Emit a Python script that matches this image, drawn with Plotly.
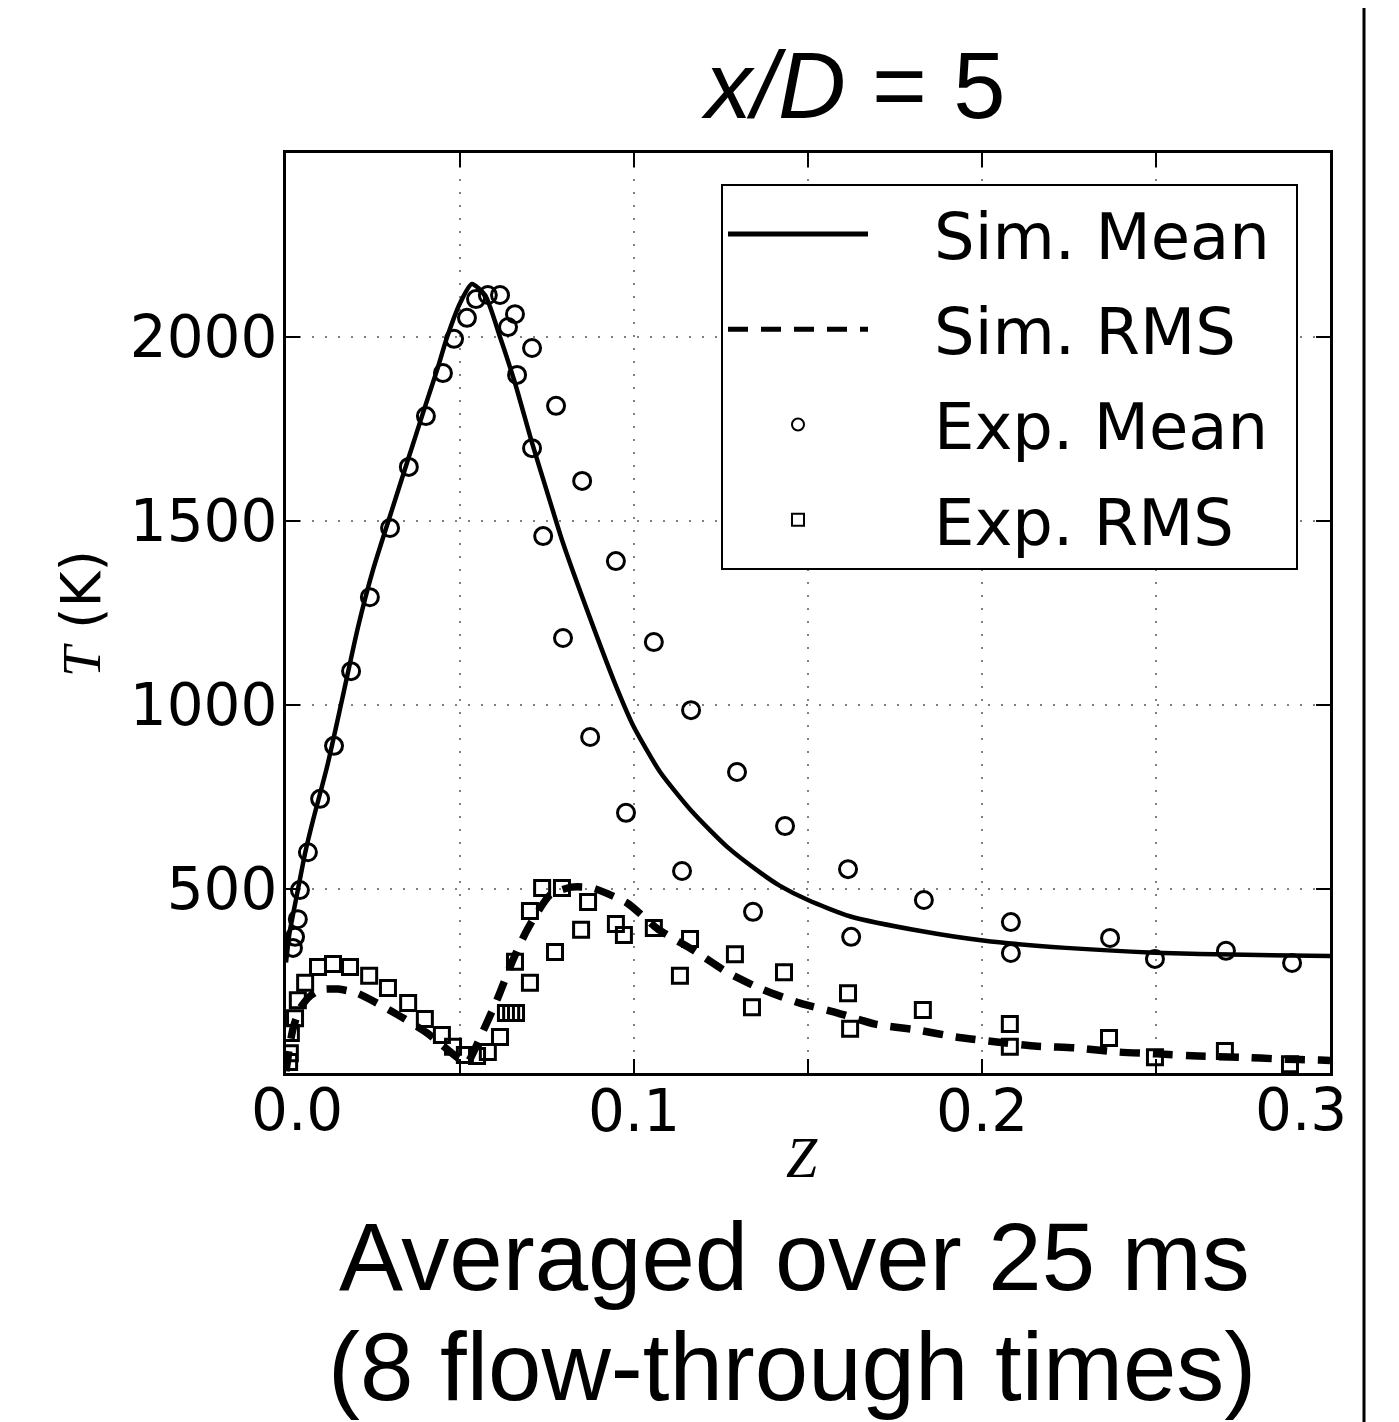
import plotly.graph_objects as go

# ---------------- data ----------------
sim_mean_z = [0, 0.001, 0.002, 0.0034, 0.0055, 0.0078, 0.0118, 0.0161, 0.0207, 0.025, 0.030, 0.035,
              0.040, 0.0434, 0.0463, 0.050, 0.0534, 0.0572, 0.0615, 0.0658, 0.0707, 0.075, 0.0796,
              0.0882, 0.0951, 0.0997, 0.1075, 0.117, 0.1267, 0.1362, 0.1417, 0.150, 0.162, 0.1828,
              0.2003, 0.2241, 0.2497, 0.2756, 0.3]
sim_mean_T = [300, 380, 430, 497, 598, 688, 832, 1014, 1212, 1367, 1517, 1665,
              1812, 1910, 2000, 2092, 2144, 2114, 2000, 1875, 1712, 1580, 1440,
              1215, 1045, 945, 818, 707, 615, 545, 510, 470, 426, 385,
              360, 340, 327, 321, 318]

sim_rms_z = [0, 0.001, 0.002, 0.004, 0.007, 0.0098, 0.015, 0.0204, 0.0307, 0.0405, 0.0491, 0.052,
             0.0557, 0.0606, 0.0652, 0.0693, 0.0759, 0.082, 0.0879, 0.098, 0.1069, 0.117, 0.1267,
             0.1371, 0.1477, 0.1586, 0.1693, 0.1813, 0.1925, 0.2043, 0.2158, 0.227, 0.2391, 0.2503,
             0.2621, 0.2741, 0.2859, 0.2971, 0.3]
sim_rms_T = [5, 70, 120, 175, 210, 226, 228, 217, 166, 109, 43, 28,
             95, 198, 307, 389, 484, 505, 503, 462, 391, 334, 274,
             226, 190, 163, 133, 117, 98, 84, 73, 68, 57, 52,
             46, 43, 38, 35, 34]

exp_mean_z = [0.0020, 0.0026, 0.0034, 0.0040, 0.0063, 0.0098, 0.0138, 0.0187, 0.0241, 0.0299, 0.0353,
              0.0402, 0.0451, 0.0483, 0.0520, 0.0546, 0.0580, 0.0615, 0.0638, 0.0658, 0.0664, 0.0707,
              0.0707, 0.0739, 0.0776, 0.0796, 0.0851, 0.0874, 0.0948, 0.0977, 0.1057, 0.1138, 0.1164,
              0.1296, 0.1342, 0.1434, 0.1615, 0.1624, 0.1833, 0.2083, 0.2083, 0.2368, 0.2497, 0.2701,
              0.2891]
exp_mean_T = [340, 370, 418, 497, 600, 745, 889, 1092, 1293, 1481, 1647,
              1785, 1902, 1995, 2052, 2103, 2114, 2114, 2027, 2062, 1897, 1970,
              1698, 1459, 1813, 1182, 1609, 913, 1391, 707, 1171, 549, 986,
              818, 438, 671, 554, 370, 470, 410, 326, 367, 310, 332,
              299]

exp_rms_z = [0.0009, 0.0011, 0.0014, 0.0026, 0.0034, 0.0055, 0.0092, 0.0135, 0.0184, 0.0239, 0.0293,
             0.0351, 0.0399, 0.0448, 0.0480, 0.0514, 0.0549, 0.0580, 0.0615, 0.0632, 0.0647, 0.0661,
             0.0701, 0.0658, 0.0773, 0.0701, 0.0736, 0.0793, 0.0848, 0.0868, 0.0948, 0.0971, 0.1057,
             0.1161, 0.1132, 0.1290, 0.1339, 0.1431, 0.1615, 0.1621, 0.1830, 0.2080, 0.2080, 0.2365,
             0.2497, 0.2698, 0.2885]
exp_rms_T = [30, 54, 109, 149, 198, 245, 288, 296, 288, 264, 231,
             190, 147, 103, 71, 49, 46, 57, 98, 163, 163, 163,
             245, 302, 329, 440, 503, 503, 389, 465, 405, 375, 394,
             364, 264, 323, 179, 274, 217, 120, 171, 133, 71, 95,
             43, 60, 24]

x_ticks = [0, 0.05, 0.1, 0.15, 0.2, 0.25, 0.3]
x_tick_text = ["", "", "0.1", "", "0.2", "", ""]
x_edge_labels = [(0.0, "0.0"), (0.3, "0.3")]   # outer labels drawn inward, as in the original
y_ticks = [500, 1000, 1500, 2000]
y_tick_text = ["500", "1000", "1500", "2000"]

legend_names = ["Sim. Mean", "Sim. RMS", "Exp. Mean", "Exp. RMS"]

# ---------------- figure ----------------
PAD = "\u00a0" * 3
TAIL = "\u00a0"

fig = go.Figure()
fig.add_trace(go.Scatter(x=sim_mean_z, y=sim_mean_T, mode="lines", name=PAD + legend_names[0] + TAIL,
                         line=dict(color="black", width=4.5, shape="spline", smoothing=0.6),
                         legendgroup="a"))
fig.add_trace(go.Scatter(x=sim_rms_z, y=sim_rms_T, mode="lines", name=PAD + legend_names[1] + TAIL,
                         line=dict(color="black", width=7.5, dash="20px,13px", shape="spline",
                                   smoothing=0.6),
                         legendgroup="b"))
fig.add_trace(go.Scatter(x=exp_mean_z, y=exp_mean_T, mode="markers", name=PAD + legend_names[2] + TAIL,
                         marker=dict(symbol="circle-open", size=17, color="black",
                                     line=dict(width=3, color="black")), legendgroup="c"))
fig.add_trace(go.Scatter(x=exp_rms_z, y=exp_rms_T, mode="markers", name=PAD + legend_names[3] + TAIL,
                         marker=dict(symbol="square-open", size=15, color="black",
                                     line=dict(width=3, color="black")), legendgroup="d"))

OFF = 8  # page body margin
W, H = 1399 - OFF, 1422 - OFF
L, R, T, B = 286 - OFF, 69, 153 - OFF, 1422 - 1073
pw, ph = W - L - R, H - T - B


def px_x(p):
    return (p - OFF - L) / pw


def px_y(p):
    return (H - B - (p - OFF)) / ph


TICK_FONT = dict(family="DejaVu Sans", size=58, color="black")

axis_common = dict(showline=True, linecolor="black", linewidth=3, mirror="ticks",
                   ticks="inside", ticklen=14, tickwidth=2, tickcolor="black",
                   showgrid=True, gridcolor="#808080", gridwidth=2, griddash="2px,11px",
                   zeroline=False, tickfont=TICK_FONT)

fig.update_xaxes(range=[0, 0.3], tickmode="array", tickvals=x_ticks, ticktext=x_tick_text,
                 ticklabelstandoff=-15, **axis_common)
fig.update_yaxes(range=[0, 2500], tickmode="array", tickvals=y_ticks, ticktext=y_tick_text,
                 ticklabelstandoff=-6, **axis_common)

annotations = [
    dict(text="<i>x/D</i> = 5", x=px_x(853), y=px_y(86), xref="paper", yref="paper",
         showarrow=False, xanchor="center", yanchor="middle",
         font=dict(family="Liberation Sans", size=94, color="black")),
    dict(text="<i>Z</i>", x=px_x(802), y=px_y(1158), xref="paper", yref="paper",
         showarrow=False, xanchor="center", yanchor="middle",
         font=dict(family="Liberation Serif", size=56, color="black")),
    dict(text="<span style='font-family:Liberation Serif'><i>T</i></span> (K)",
         x=px_x(81), y=px_y(614), xref="paper", yref="paper", textangle=-90,
         showarrow=False, xanchor="center", yanchor="middle",
         font=dict(family="DejaVu Sans", size=55, color="black")),
    dict(text="Averaged over 25 ms", x=px_x(794), y=px_y(1256), xref="paper", yref="paper",
         showarrow=False, xanchor="center", yanchor="middle",
         font=dict(family="Liberation Sans", size=96, color="black")),
    dict(text="(8 flow-through times)", x=px_x(792), y=px_y(1366), xref="paper", yref="paper",
         showarrow=False, xanchor="center", yanchor="middle",
         font=dict(family="Liberation Sans", size=96, color="black")),
]
edge_shift = {0.0: 11, 0.3: -29}
for xv, lab in x_edge_labels:
    annotations.append(dict(text=lab, x=xv, xref="x", y=px_y(1110), yref="paper",
                            xshift=edge_shift[xv], showarrow=False,
                            xanchor="center", yanchor="middle", font=TICK_FONT))

shapes = [dict(type="line", xref="paper", yref="paper", x0=px_x(1364), x1=px_x(1364),
               y0=px_y(1430), y1=px_y(-10), line=dict(color="black", width=3))]

fig.update_layout(
    width=W, height=H,
    margin=dict(l=L, r=R, t=T, b=B, pad=0),
    plot_bgcolor="white", paper_bgcolor="white",
    annotations=annotations, shapes=shapes,
    showlegend=True,
    legend=dict(x=px_x(1298), y=px_y(184), xanchor="right", yanchor="top",
                bgcolor="white", bordercolor="black", borderwidth=2,
                font=dict(family="DejaVu Sans", size=64, color="black"),
                traceorder="grouped", tracegroupgap=9, itemwidth=140, itemsizing="constant"),
)

fig.write_html("out.html")
